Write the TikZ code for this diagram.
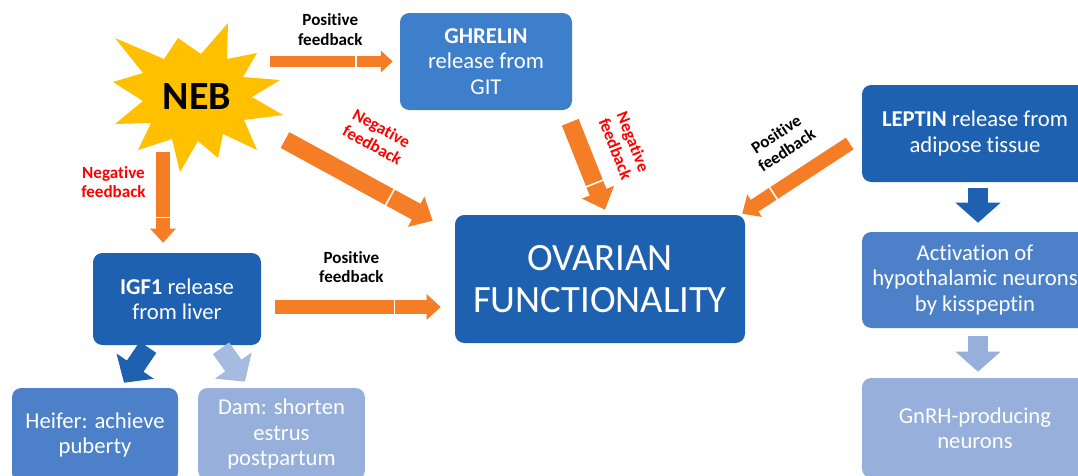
\documentclass[tikz,border=0pt]{standalone}
\usepackage{fontspec}
\setmainfont{Carlito}[Ligatures=NoCommon]
\usetikzlibrary{positioning}
\usetikzlibrary{arrows.meta}
\usetikzlibrary{calc}
\definecolor{darkblue}{HTML}{1E61B0}
\definecolor{ghrelinblue}{HTML}{3E7FCC}
\definecolor{midblue}{HTML}{4C80C8}
\definecolor{lightblue}{HTML}{96AFDB}
\definecolor{fborange}{HTML}{F47D25}
\definecolor{fbred}{HTML}{FF0000}
\definecolor{nebyellow}{HTML}{FFC000}
\tikzset{
   box/.style = {%
    shape=rectangle,
    rounded corners=7pt,
    text=white,
    align=center,
    inner sep=2pt,
    font=\fontsize{17}{19}\selectfont},
 fbarrow/.style = {%
    draw=fborange,
    line width=10pt,% shaft, head follows it
    -{Triangle[length=0pt 1.05, width=0pt 1.85]},
    font=\fontsize{12.8}{14.3}\selectfont\bfseries},
 bluearrow/.style = {%
    line width=15pt,
    -{Triangle[length=15pt, width=33pt]}},
 divider/.style = {fill=white, inner sep=0pt, outer sep=0pt,
    minimum width=1.2pt, minimum height=16pt, sloped},
 fblabel/.style = {align=center, inner sep=0pt},
    }

\begin{document}
\begin{tikzpicture}[x=0.75pt, y=-0.75pt]
\useasboundingbox (0,0) rectangle (1078,475);
\clip (0,0) rectangle (1078,475);

% boxes
\node[box, fill=ghrelinblue, minimum width=129pt, minimum height=72.75pt] (ghrelin) at (486,61.5)
    {\textbf{GHRELIN}\\release from\\GIT};
\node[box, fill=darkblue, minimum width=169.5pt, minimum height=72.75pt] (leptin) at (975,133.5)
    {\textbf{LEPTIN} release from\\adipose tissue};
\node[box, fill=midblue, minimum width=169.5pt, minimum height=72pt] (activation) at (975,280)
    {Activation of\\hypothalamic neurons\\by kisspeptin};
\node[box, fill=lightblue, minimum width=169.5pt, minimum height=75pt] (gnrh) at (975,428)
    {GnRH-producing\\neurons};
\node[box, fill=darkblue, minimum width=217.5pt, minimum height=96pt,
      font=\fontsize{29}{32}\selectfont] (ovarian) at (600,279)
    {OVARIAN\\FUNCTIONALITY};
\node[box, fill=darkblue, minimum width=126pt, minimum height=69pt] (igf1) at (177,299)
    {\textbf{IGF1} release\\from liver};
\node[box, fill=midblue, minimum width=124.5pt, minimum height=70.5pt] (heifer) at (95,435)
    {Heifer: achieve\\puberty};
\node[box, fill=lightblue, minimum width=125pt, minimum height=69pt] (dam) at (281.5,434)
    {Dam: shorten\\estrus\\postpartum};

% NEB star
\coordinate (nebc) at (197,97);
\fill[nebyellow, shift={(nebc)}] (31,-74) -- (4,-43) -- (-19,-59) -- (-33,-38) -- (-82,-59)
    -- (-54,-24) -- (-84,-15) -- (-54,4) -- (-82,27) -- (-46,26) -- (-59,53) -- (-25,42)
    -- (-17,75) -- (1,44) -- (21,61) -- (26,37) -- (60,53) -- (47,23) -- (86,18) -- (55,0)
    -- (83,-17) -- (46,-20) -- (60,-44) -- (30,-38) -- cycle;
\node[circle, inner sep=0pt, minimum size=109.5pt,
      font=\fontsize{30}{30}\selectfont\bfseries] (neb) at (nebc) {NEB};

% feedback arrows
\draw[fbarrow, line width=8.5pt] (neb.east |- ghrelin.west) -- ($(ghrelin.west)+(-7,0)$)
    node[divider, pos=0.7] {}
    node[fblabel, pos=0.49, above=8pt] {Positive\\feedback};
\draw[fbarrow, line width=13.5pt] ($(neb)+(88,43)$) -- ($(ovarian.north west)+(-22,6)$)
    node[divider, pos=0.71] {}
    node[fblabel, text=fbred, sloped, pos=0.47, above=17pt] {Negative\\feedback};
\draw[fbarrow] ($(neb)+(-34,55)$) -- ($(igf1.north)+(-14,-10)$)
    node[divider, pos=0.72] {}
    node[fblabel, text=fbred, pos=0.33, left=8pt] {Negative\\feedback};
\draw[fbarrow, line width=13.5pt] ($(ghrelin.south east)+(-2,12)$) -- ($(ovarian.north)+(5,-5)$)
    node[divider, pos=0.7] {}
    node[fblabel, text=fbred, sloped, pos=0.44, above=13pt] {Negative\\feedback};
\draw[fbarrow, line width=10.5pt] ($(leptin.west)+(-12,10)$) -- ($(ovarian.north east)+(-3,-1)$)
    node[divider, pos=0.71] {}
    node[fblabel, sloped, pos=0.44, above=12pt] {Positive\\feedback};
\draw[fbarrow] ($(igf1.east)+(14,8)$) -- ($(ovarian.west)+(-14,28)$)
    node[divider, pos=0.72] {}
    node[fblabel, pos=0.46, above=13pt] {Positive\\feedback};

% block arrows
\draw[bluearrow, draw=darkblue] ($(leptin.south)+(3,6)$) -- ($(activation.north)+(3,-9)$);
\draw[bluearrow, draw=lightblue] ($(activation.south)+(3,8)$) -- ($(gnrh.north)+(3,-6)$);
\draw[bluearrow, draw=darkblue] ($(igf1.south)+(-29,2)$) -- ($(heifer.north)+(29,-5)$);
\draw[bluearrow, draw=lightblue!85!white] ($(igf1.south)+(44,3)$) -- ($(dam.north)+(-36.5,-6)$);
\end{tikzpicture}
\end{document}
